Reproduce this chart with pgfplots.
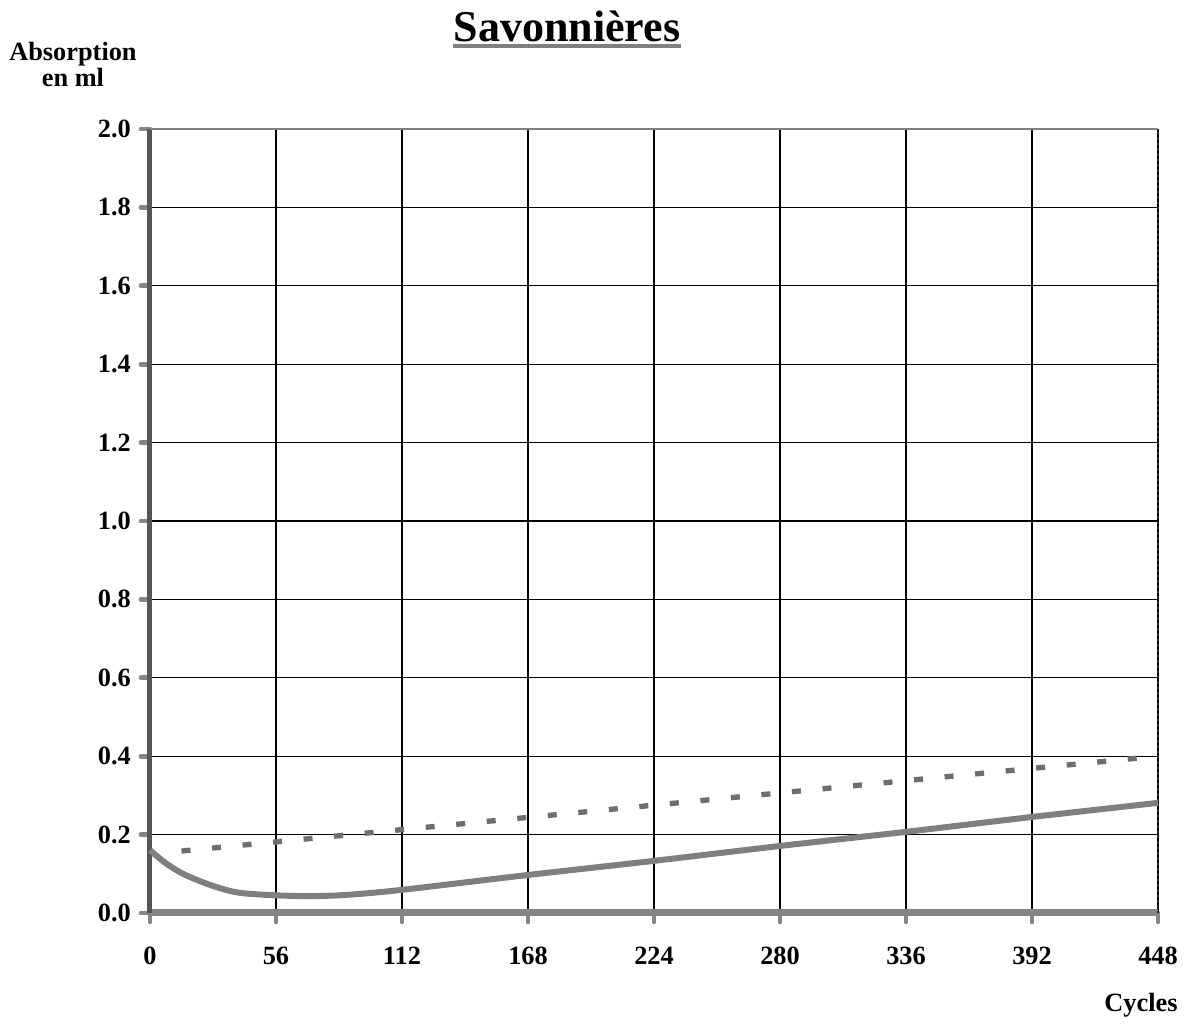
\documentclass[border=0pt]{standalone}
\usepackage{fontspec}
\setmainfont{Liberation Serif}
\usepackage{pgfplots}
\pgfplotsset{compat=1.18}

\definecolor{curvegray}{HTML}{7F7F7F}
\definecolor{dashgray}{HTML}{6E6E6E}
\definecolor{axisgray}{HTML}{858585}
\definecolor{leftgray}{HTML}{555555}

\begin{document}
\begin{tikzpicture}[font=\bfseries\fontsize{7.9}{9.5}\selectfont]
% page frame: 1px = 0.3pt
\path[use as bounding box] (-45pt,-33.3pt) rectangle (311.7pt,273.9pt);
\begin{axis}[
    at={(0,0)}, anchor=south west,
    scale only axis,
    width=302.4pt, height=235.2pt,
    xmin=0, xmax=448,
    ymin=0, ymax=2,
    xtick={0,56,112,168,224,280,336,392,448},
    ytick={0,0.2,0.4,0.6,0.8,1.0,1.2,1.4,1.6,1.8,2.0},
    axis lines=left,
    separate axis lines,
    every outer x axis line/.append style={-, axisgray, line width=2.1pt},
    every outer y axis line/.append style={-, leftgray, line width=1.5pt},
    grid=major,
    grid style={black, line width=0.4pt},
    tick align=outside,
    major tick length=2.7pt,
    tick style={axisgray, line width=1.4pt, line cap=round},
    /pgf/number format/assume math mode=true,
    ticklabel style={font=\bfseries\fontsize{7.9}{9.5}\selectfont},
    yticklabel style={xshift=0.5pt, /pgf/number format/.cd, fixed, fixed zerofill, precision=1},
    xticklabel style={yshift=-4pt},
    clip=false,
]
% top and right frame lines
\draw[gray, line width=0.5pt] (rel axis cs:0,1) -- (rel axis cs:1,1);
\draw[black!80, line width=0.6pt, densely dotted] (rel axis cs:1,0) -- (rel axis cs:1,1);

% trend (dashed)
\addplot[dashgray, line width=1.6pt, dash pattern=on 2.7pt off 6.5pt] coordinates {
    (14,0.158) (448,0.400)
};

% measured absorption curve
\addplot[curvegray, line width=1.8pt, smooth] coordinates {
    (0,0.160) (7,0.127) (14,0.102) (21,0.084) (28,0.069) (35,0.057)
    (42,0.050) (56,0.045) (70,0.043) (84,0.045) (98,0.051) (112,0.059)
    (140,0.078) (168,0.097) (196,0.115) (224,0.133) (252,0.152)
    (280,0.171) (308,0.189) (336,0.207) (364,0.226) (392,0.245)
    (420,0.263) (448,0.281)
};
\end{axis}

\node[anchor=base, inner sep=0pt, font=\bfseries\fontsize{13.2}{15}\selectfont] (t) at (125.1pt,261.3pt) {Savonnières};
\draw[gray, line width=1.2pt] ([yshift=-1.1pt]t.base west) -- ([yshift=-1.1pt]t.base east);
\node[anchor=base, inner sep=0pt] at (-23.1pt,255.6pt) {Absorption};
\node[anchor=base, inner sep=0pt] at (-23.1pt,247.8pt) {en ml};
\node[anchor=base, inner sep=0pt] at (297.3pt,-29.7pt) {Cycles};
\end{tikzpicture}
\end{document}
